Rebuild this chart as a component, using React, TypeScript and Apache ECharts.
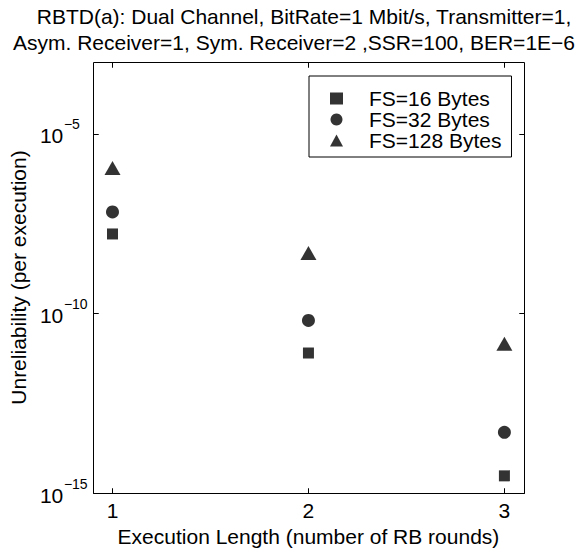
import React, { useEffect, useRef } from "react";
import * as echarts from "echarts";

const executionLengths = [1, 2, 3];
const fs16 = [1.63e-8, 7.9e-12, 3.0e-15];
const fs32 = [6.7e-8, 6.4e-11, 4.9e-14];
const fs128 = [1.12e-6, 4.8e-9, 1.44e-11];
const seriesNames = ["FS=16 Bytes", "FS=32 Bytes", "FS=128 Bytes"];
const xTicks = [1, 2, 3];
const yTicks = [1e-15, 1e-10, 1e-5];
const xRange = [0.9, 3.1];
const yRange = [1e-15, 1e-3];
const titleLine1 = "RBTD(a): Dual Channel, BitRate=1 Mbit/s, Transmitter=1,";
const titleLine2 = "Asym. Receiver=1, Sym. Receiver=2 ,SSR=100, BER=1E\u22126";

const FONT = "'Liberation Sans', Arial, Helvetica, sans-serif";
const FS = 21;
const TICK = 5;

export default function App() {
  const ref = useRef<HTMLDivElement>(null);
  useEffect(() => {
    if (!ref.current) return;
    const chart = echarts.init(ref.current, null, { renderer: "svg" });
    const pts = (ys: number[]) => executionLengths.map((x, i) => [x, ys[i]]);
    const yFmt = (v: number) => {
      const e = Math.round(Math.log10(v));
      return `{sp| }{s|${e < 0 ? "\u2212" : ""}${Math.abs(e)}}\n{b|10}`;
    };
    const titles = [
      {
        type: "text",
        x: 304,
        y: 16,
        style: { text: titleLine1, font: `${FS}px ${FONT}`, fill: "#000", textAlign: "center", textVerticalAlign: "middle" },
      },
      {
        type: "text",
        x: 294,
        y: 42,
        style: { text: titleLine2, font: `${FS}px ${FONT}`, fill: "#000", textAlign: "center", textVerticalAlign: "middle" },
      },
    ];
    chart.setOption({
      animation: false,
      backgroundColor: "#fff",
      textStyle: { fontFamily: FONT },
      graphic: titles,
      grid: { left: 92, right: 59, top: 62, bottom: 62 },
      legend: {
        orient: "vertical",
        left: 309,
        top: 76,
        z: 10,
        data: seriesNames,
        backgroundColor: "#fff",
        borderColor: "#000",
        borderWidth: 1,
        borderRadius: 0,
        padding: [12, 10, 6, 21],
        itemWidth: 13,
        itemHeight: 12,
        itemGap: 0,
        textStyle: { fontFamily: FONT, fontSize: FS, lineHeight: 19.5, color: "#000", padding: [0, 0, 0, 21] },
      },
      xAxis: {
        type: "value",
        min: xRange[0],
        max: xRange[1],
        position: "bottom",
        splitLine: { show: false },
        axisLine: { show: false },
        axisTick: { show: false },
        name: "Execution Length (number of RB rounds)",
        nameLocation: "middle",
        nameGap: 33,
        nameTextStyle: { fontFamily: FONT, fontSize: FS, color: "#000" },
        axisLabel: { customValues: xTicks, margin: 7, fontFamily: FONT, fontSize: FS, color: "#000" },
      },
      yAxis: {
        type: "log",
        logBase: 10,
        min: yRange[0],
        max: yRange[1],
        interval: 5,
        position: "left",
        splitLine: { show: false },
        axisLine: { show: false },
        axisTick: { show: false },
        name: "Unreliability (per execution)",
        nameLocation: "middle",
        nameGap: 61,
        nameTextStyle: { fontFamily: FONT, fontSize: FS, color: "#000" },
        axisLabel: {
          showMaxLabel: false,
          align: "left",
          verticalAlign: "middle",
          margin: 53,
          formatter: yFmt,
          rich: {
            sp: { fontFamily: FONT, fontSize: 14, lineHeight: 4, width: 24 },
            s: { fontFamily: FONT, fontSize: 14, color: "#000", lineHeight: 4 },
            b: { fontFamily: FONT, fontSize: FS, color: "#000", lineHeight: 19 },
          },
        },
      },
      series: [
        { name: seriesNames[0], type: "scatter", symbol: "rect", symbolSize: 11, itemStyle: { color: "#000" }, data: pts(fs16), z: 3 },
        { name: seriesNames[1], type: "scatter", symbol: "circle", symbolSize: 13, itemStyle: { color: "#000" }, data: pts(fs32), z: 3 },
        { name: seriesNames[2], type: "scatter", symbol: "triangle", symbolSize: [16, 14], itemStyle: { color: "#000" }, data: pts(fs128), z: 3 },
      ],
    });

    // frame and ticks placed through the chart's own scales
    const toPx = (x: number, y: number) => chart.convertToPixel({ gridIndex: 0 }, [x, y]) as number[];
    const [x0, yb] = toPx(xRange[0], yRange[0]);
    const [x1, yt] = toPx(xRange[1], yRange[1]);
    const L = Math.round(x0) + 0.5;
    const R = Math.round(x1) + 0.5;
    const T = Math.round(yt) + 0.5;
    const B = Math.round(yb) + 0.5;
    const frame: any[] = [
      {
        type: "rect",
        z: 1,
        silent: true,
        shape: { x: L, y: T, width: R - L, height: B - T },
        style: { fill: "#fff", stroke: "#000", lineWidth: 1 },
      },
    ];
    const tickStyle = { fill: "#fff", stroke: "#000", lineWidth: 1 };
    xTicks.forEach((v) => {
      const px = Math.round(toPx(v, yRange[0])[0]) + 0.5;
      frame.push({ type: "rect", z: 2, silent: true, shape: { x: px, y: B - TICK, width: 0.01, height: TICK }, style: tickStyle });
      frame.push({ type: "rect", z: 2, silent: true, shape: { x: px, y: T, width: 0.01, height: TICK }, style: tickStyle });
    });
    yTicks.forEach((v) => {
      const py = Math.round(toPx(xRange[0], v)[1]) + 0.5;
      frame.push({ type: "rect", z: 2, silent: true, shape: { x: L, y: py, width: TICK, height: 0.01 }, style: tickStyle });
      frame.push({ type: "rect", z: 2, silent: true, shape: { x: R - TICK, y: py, width: TICK, height: 0.01 }, style: tickStyle });
    });
    chart.setOption({ graphic: [...titles, ...frame] }, { replaceMerge: ["graphic"] });

    return () => chart.dispose();
  }, []);
  return <div ref={ref} style={{ position: "absolute", left: 0, top: 0, width: 583, height: 555 }} />;
}
